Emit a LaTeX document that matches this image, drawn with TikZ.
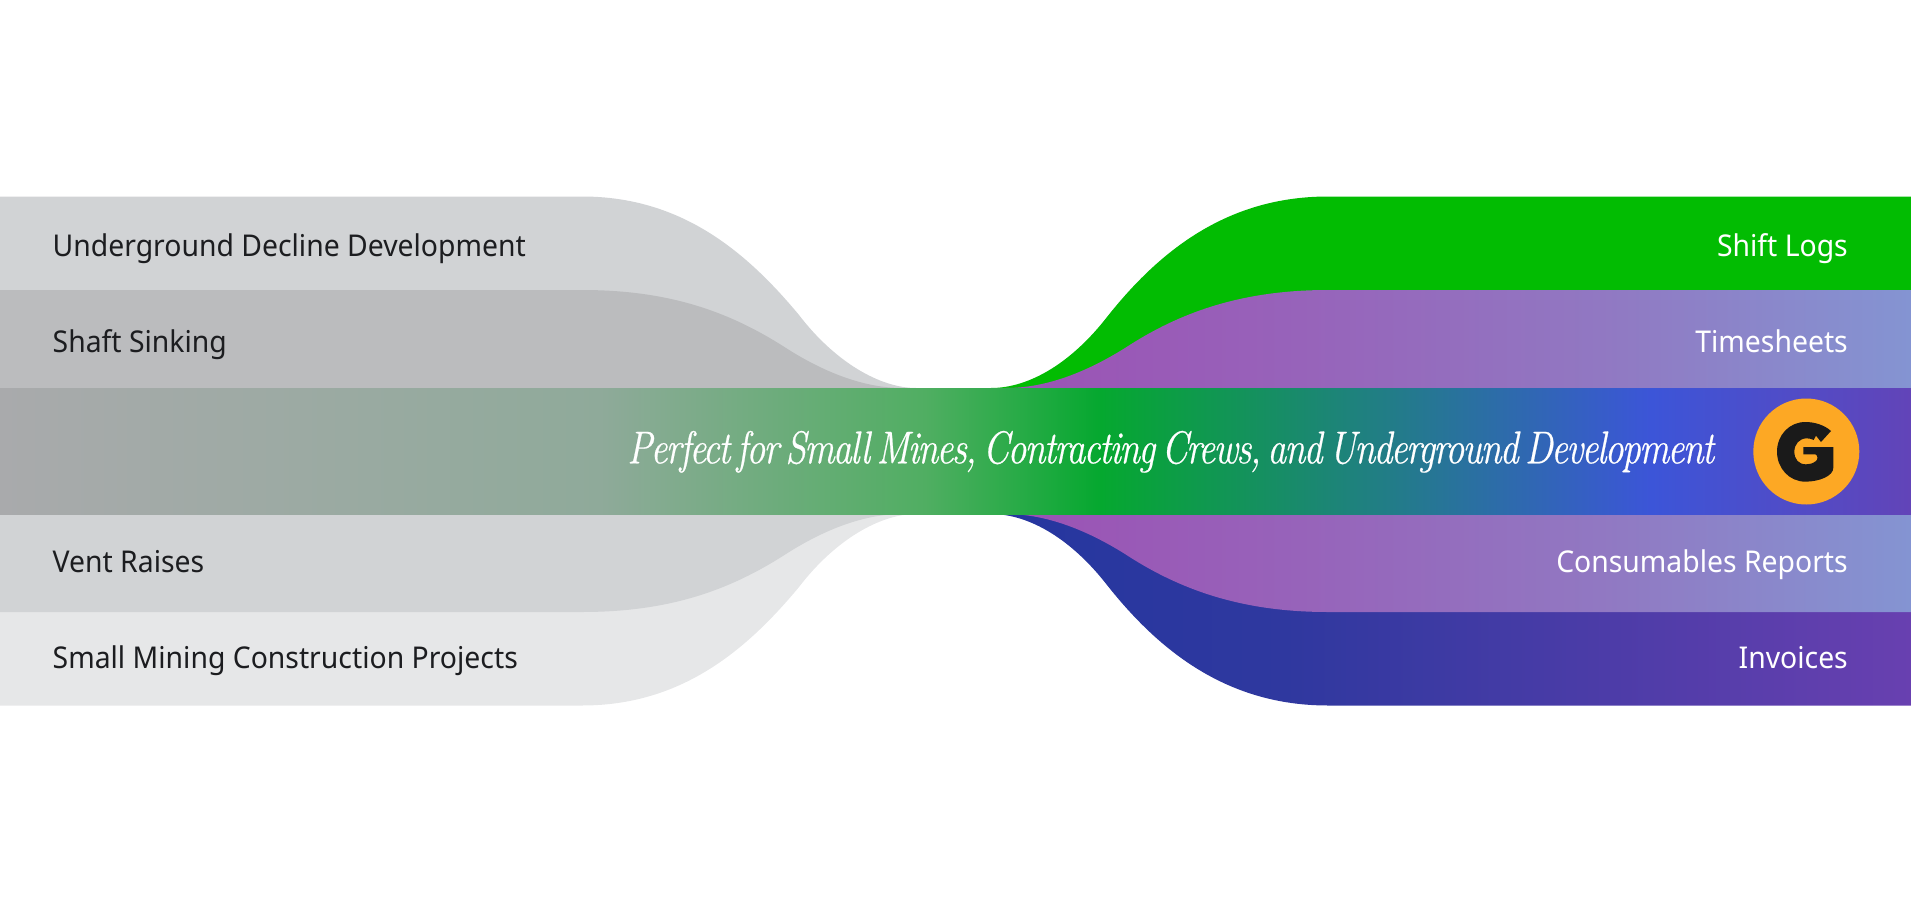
\documentclass[tikz,border=0pt]{standalone}
\usepackage{fontspec}
\setmainfont[FakeStretch=0.945]{Noto Sans}
\newfontfamily\headfont[FakeStretch=0.817,WordSpace=0.55,LetterSpace=-3.5,FakeBold=0.5]{Latin Modern Roman}
\definecolor{gA}{HTML}{A9AAAC}
\definecolor{gB}{HTML}{8FAA9A}
\definecolor{gC}{HTML}{50AE62}
\definecolor{gD}{HTML}{05A82F}
\definecolor{gE}{HTML}{3C55D8}
\definecolor{gF}{HTML}{6244B8}
\definecolor{bandA}{HTML}{D1D3D5}
\definecolor{bandB}{HTML}{BBBCBE}
\definecolor{bandC}{HTML}{E6E7E8}
\definecolor{greenband}{HTML}{02BC02}
\definecolor{purpleA}{HTML}{9B52B4}
\definecolor{purpleB}{HTML}{9763BA}
\definecolor{purpleC}{HTML}{9178C2}
\definecolor{purpleD}{HTML}{8494D2}
\definecolor{blueA}{HTML}{25369F}
\definecolor{blueB}{HTML}{2F389F}
\definecolor{blueC}{HTML}{6840B0}
\definecolor{badge}{HTML}{FDA824}
\definecolor{inkdark}{HTML}{1A1A1A}
\definecolor{labeldark}{HTML}{1C1D20}
% stops: bp = 25 + 50*x/1911
\pgfdeclarehorizontalshading{centergrad}{100bp}{color(0bp)=(gA); color(25bp)=(gA); color(40.7bp)=(gB); color(49.2bp)=(gC); color(53.8bp)=(gD); color(68.2bp)=(gE); color(75bp)=(gF); color(100bp)=(gF)}
\pgfdeclarehorizontalshading{purplegrad}{100bp}{color(0bp)=(purpleA); color(25bp)=(purpleA); color(41.2bp)=(purpleB); color(57.8bp)=(purpleC); color(75bp)=(purpleD); color(100bp)=(purpleD)}
\pgfdeclarehorizontalshading{bluegrad}{100bp}{color(0bp)=(blueA); color(25bp)=(blueA); color(41bp)=(blueB); color(75bp)=(blueC); color(100bp)=(blueC)}
\tikzset{
  lefttext/.style={anchor=base west,inner sep=0pt,text=labeldark,font=\fontsize{30}{36}\selectfont},
  righttext/.style={anchor=base east,inner sep=0pt,text=white,font=\fontsize{30}{36}\selectfont},
  headtext/.style={anchor=base west,inner sep=0pt,text=white,font=\headfont\itshape\fontsize{46}{52}\selectfont},
}
\begin{document}
\begin{tikzpicture}[x=1pt,y=-1pt]
\useasboundingbox (0,0) rectangle (1911,907);
% left bands
\fill[bandA] (0,196.5) -- (582,196.5) .. controls (680,196.5) and (745,250) .. (799,315) .. controls (835,362) and (880,388) .. (916,388) -- (0,388) -- cycle;
\fill[bandB] (0,290) -- (582,290) .. controls (670,290) and (730,312) .. (786,348) .. controls (825,373) and (865,388) .. (902,388) -- (0,388) -- cycle;
\fill[bandC] (0,705.5) -- (582,705.5) .. controls (680,705.5) and (745,652) .. (799,587) .. controls (835,540) and (880,514) .. (916,514) -- (0,514) -- cycle;
\fill[bandA] (0,612) -- (582,612) .. controls (670,612) and (730,590) .. (786,554) .. controls (825,529) and (865,514) .. (902,514) -- (0,514) -- cycle;
% right bands
\fill[greenband] (1911,196.5) -- (1328,196.5) .. controls (1228,196.5) and (1160,250) .. (1107,317) .. controls (1072,362) and (1030,388) .. (991,388) -- (1911,388) -- cycle;
\shade[shading=purplegrad] (1911,290) -- (1328,290) .. controls (1242,290) and (1180,312) .. (1125,348) .. controls (1085,373) and (1045,388) .. (1006,388) -- (1911,388) -- cycle;
\shade[shading=bluegrad] (1911,705.5) -- (1328,705.5) .. controls (1228,705.5) and (1160,652) .. (1107,585) .. controls (1072,540) and (1030,514) .. (991,514) -- (1911,514) -- cycle;
\shade[shading=purplegrad] (1911,612) -- (1328,612) .. controls (1242,612) and (1180,590) .. (1125,554) .. controls (1085,529) and (1045,514) .. (1006,514) -- (1911,514) -- cycle;
% centre band
\shade[shading=centergrad] (0,388) rectangle (1911,514);
% labels
\node[lefttext] (decline) at (52.5,256.7) {Underground Decline Development};
\node[lefttext] (shaft) at (52.5,352.7) {Shaft Sinking};
\node[lefttext] (vent) at (52.5,572.3) {Vent Raises};
\node[lefttext] (small) at (52.5,668) {Small Mining Construction Projects};
\node[righttext] (logs) at (1848,256.7) {Shift Logs};
\node[righttext] (sheets) at (1848,352.7) {Timesheets};
\node[righttext] (consum) at (1848,572.3) {Consumables Reports};
\node[righttext] (invoices) at (1848,668) {Invoices};
\node[headtext] (head) at (627,463.3) {Perfect for Small Mines, Contracting Crews, and Underground Development};
% badge
\fill[badge] (1806.3,451.5) circle[radius=53];
\begin{scope}[shift={(1766,411)},x=0.3333pt,y=-0.3333pt]
\fill[inkdark] (195,60) .. controls (175,42) and (146,33) .. (118,33)
  .. controls (70,33) and (33,72) .. (33,122)
  .. controls (33,172) and (70,212) .. (118,212)
  .. controls (160,212) and (202,195) .. (202,170)
  -- (202,108) -- (112,108) -- (112,130) -- (148,130)
  .. controls (156,132) and (156,146) .. (150,150)
  .. controls (140,158) and (130,160) .. (120,160)
  .. controls (98,160) and (85,145) .. (85,122)
  .. controls (85,100) and (100,82) .. (122,82)
  .. controls (130,82) and (138,84) .. (143,87)
  -- (150,74) -- (165,93) -- cycle;
\end{scope}
\end{tikzpicture}
\end{document}
